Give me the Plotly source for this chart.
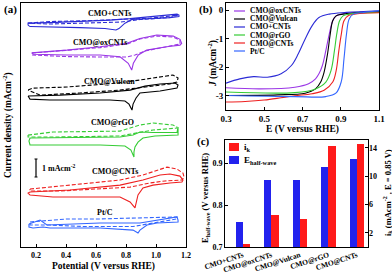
import plotly.graph_objects as go

SERIF = "Liberation Serif, Times New Roman, serif"
W, H = 392, 273

# ---------------- Panel (a): CV curves (V vs RHE, stacked current density mA cm^-2) ----------------
a_names = ["CMO+CNTs", "CMO@oxCNTs", "CMO@Vulcan", "CMO@rGO", "CMO@CNTs", "Pt/C"]
a_colors = ["#2b2bd6", "#9a36e6", "#000000", "#35cc35", "#ee2020", "#3366ff"]

cnt_plus_solid_V = [0.147, 0.147, 0.293, 0.493, 0.693, 0.827, 0.96, 1.06, 1.14, 1.153, 1.153, 1.093, 0.96, 0.84, 0.793, 0.753, 0.733, 0.66, 0.493, 0.293, 0.16, 0.147]
cnt_plus_solid_j = [12.33, 12.44, 12.47, 12.53, 12.61, 12.69, 12.78, 12.86, 12.94, 12.89, 12.81, 12.75, 12.69, 12.64, 12.44, 12.14, 12.06, 12.14, 12.19, 12.22, 12.25, 12.33]
cnt_plus_dash_V = [0.147, 0.293, 0.56, 0.793, 0.96, 1.093, 1.147, 1.093, 0.893, 0.76, 0.56, 0.293, 0.147]
cnt_plus_dash_j = [12.44, 12.53, 12.58, 12.64, 12.72, 12.83, 12.89, 12.75, 12.64, 12.5, 12.44, 12.39, 12.44]

ox_solid_V = [0.171, 0.405, 0.627, 0.805, 0.893, 1.005, 1.115, 1.16, 1.171, 1.16, 1.071, 0.938, 0.882, 0.849, 0.838, 0.815, 0.76, 0.627, 0.405, 0.182, 0.171]
ox_solid_j = [10.79, 10.94, 11.13, 11.32, 11.59, 11.78, 11.72, 11.54, 11.32, 11.22, 11.13, 10.94, 10.67, 10.21, 9.83, 10.21, 10.57, 10.67, 10.67, 10.71, 10.79]
ox_dash_V = [0.173, 0.407, 0.627, 0.807, 0.893, 1.007, 1.113, 1.16, 1.16, 1.027, 0.927, 0.86, 0.807, 0.627, 0.407, 0.173, 0.173]
ox_dash_j = [10.78, 10.92, 11.08, 11.28, 11.56, 11.72, 11.67, 11.5, 11.28, 11.06, 10.89, 10.67, 10.56, 10.56, 10.58, 10.67, 10.78]

vul_solid_V = [0.147, 0.36, 0.627, 0.827, 0.927, 1.027, 1.127, 1.147, 1.14, 1.027, 0.893, 0.867, 0.847, 0.84, 0.82, 0.793, 0.693, 0.493, 0.293, 0.16, 0.147]
vul_solid_j = [8.39, 8.44, 8.56, 8.72, 8.94, 9.06, 9.11, 9.0, 8.83, 8.67, 8.56, 8.28, 7.94, 7.61, 7.94, 8.11, 8.17, 8.17, 8.17, 8.22, 8.39]
vul_dash_V = [0.147, 0.18, 0.407, 0.74, 0.893, 1.027, 1.113, 1.147, 1.14, 1.093, 0.96, 0.76, 0.493, 0.227, 0.147]
vul_dash_j = [8.72, 8.83, 8.89, 9.11, 9.28, 9.44, 9.56, 9.39, 9.17, 9.06, 8.94, 8.72, 8.56, 8.44, 8.72]

rgo_solid_V = [0.16, 0.313, 0.76, 0.847, 0.893, 0.98, 1.14, 1.147, 1.147, 0.993, 0.913, 0.88, 0.86, 0.853, 0.853, 0.833, 0.793, 0.627, 0.36, 0.16, 0.153, 0.16]
rgo_solid_j = [6.06, 6.08, 6.11, 6.22, 6.39, 6.36, 6.36, 6.67, 6.22, 6.17, 6.06, 5.83, 5.56, 5.28, 5.0, 5.39, 5.61, 5.67, 5.67, 5.67, 5.89, 6.06]
rgo_dash_V = [0.147, 0.313, 0.76, 0.827, 0.893, 0.98, 1.113, 1.14, 1.14, 0.98, 0.873, 0.76, 0.313, 0.147, 0.147]
rgo_dash_j = [6.22, 6.39, 6.44, 6.61, 6.78, 6.89, 6.78, 6.67, 6.61, 6.5, 6.33, 6.17, 6.11, 6.11, 6.22]

cnt_solid_V = [0.16, 0.427, 0.76, 0.913, 1.027, 1.093, 1.16, 1.18, 1.173, 1.093, 0.98, 0.913, 0.88, 0.86, 0.827, 0.76, 0.313, 0.16, 0.147, 0.16]
cnt_solid_j = [3.06, 3.17, 3.44, 3.72, 4.0, 4.06, 3.94, 3.72, 3.61, 3.56, 3.44, 3.28, 2.89, 2.17, 2.5, 2.78, 2.78, 2.89, 3.0, 3.06]
cnt_dash_V = [0.16, 0.54, 0.76, 0.913, 1.027, 1.073, 1.14, 1.18, 1.187, 1.173, 1.06, 0.96, 0.827, 0.627, 0.36, 0.16, 0.16]
cnt_dash_j = [3.22, 3.56, 3.72, 4.0, 4.33, 4.44, 4.33, 4.11, 3.89, 3.72, 3.67, 3.56, 3.33, 3.22, 3.11, 3.11, 3.22]

pt_solid_V = [0.153, 0.227, 0.273, 0.627, 0.893, 1.007, 1.14, 1.147, 1.147, 1.007, 0.94, 0.893, 0.88, 0.847, 0.627, 0.293, 0.247, 0.18, 0.153, 0.153]
pt_solid_j = [1.28, 1.5, 1.22, 1.33, 1.33, 1.5, 1.67, 1.5, 1.39, 1.33, 1.22, 0.94, 0.78, 0.94, 1.06, 1.06, 1.11, 1.06, 1.11, 1.28]
pt_dash_V = [0.16, 0.407, 0.627, 0.847, 1.007, 1.14, 1.14, 1.027, 0.847, 0.513, 0.293, 0.16, 0.16]
pt_dash_j = [1.39, 1.56, 1.56, 1.61, 1.67, 1.67, 1.56, 1.39, 1.14, 1.14, 1.22, 1.22, 1.39]

a_solid = [(cnt_plus_solid_V, cnt_plus_solid_j), (ox_solid_V, ox_solid_j), (vul_solid_V, vul_solid_j),
           (rgo_solid_V, rgo_solid_j), (cnt_solid_V, cnt_solid_j), (pt_solid_V, pt_solid_j)]
a_dash = [(cnt_plus_dash_V, cnt_plus_dash_j), (ox_dash_V, ox_dash_j), (vul_dash_V, vul_dash_j),
          (rgo_dash_V, rgo_dash_j), (cnt_dash_V, cnt_dash_j), (pt_dash_V, pt_dash_j)]
a_label_V = [0.693, 0.627, 0.693, 0.713, 0.727, 0.66]
a_label_j = [13.0, 11.39, 9.22, 6.94, 4.17, 1.89]

# ---------------- Panel (b): LSV ----------------
b_names = ["CMO@oxCNTs", "CMO@Vulcan", "CMO+CNTs", "CMO@rGO", "CMO@CNTs", "Pt/C"]
b_colors = ["#9a36e6", "#000000", "#2b2bd6", "#35cc35", "#ee2020", "#3366ff"]
b_V = [
    [0.3, 0.48, 0.66, 0.732, 0.768, 0.786, 0.804, 0.822, 0.84, 0.858, 0.876, 0.93, 1.0, 1.1],
    [0.3, 0.57, 0.714, 0.768, 0.795, 0.813, 0.831, 0.845, 0.858, 0.876, 0.93, 1.0, 1.1],
    [0.3, 0.372, 0.444, 0.516, 0.588, 0.642, 0.678, 0.714, 0.75, 0.786, 0.84, 0.93, 1.1],
    [0.3, 0.66, 0.768, 0.822, 0.849, 0.867, 0.879, 0.894, 0.912, 0.966, 1.1],
    [0.3, 0.4, 0.5, 0.588, 0.66, 0.75, 0.813, 0.858, 0.876, 0.89, 0.903, 0.917, 0.939, 1.0, 1.1],
    [0.3, 0.66, 0.822, 0.876, 0.903, 0.917, 0.93, 0.944, 0.966, 1.02, 1.1],
]
b_J = [
    [-2.72, -2.76, -2.7, -2.58, -2.41, -2.23, -1.94, -1.42, -0.84, -0.37, -0.2, -0.12, -0.08, -0.06],
    [-2.99, -2.97, -2.91, -2.76, -2.52, -2.17, -1.53, -0.84, -0.37, -0.2, -0.12, -0.08, -0.06],
    [-2.56, -2.41, -2.33, -2.35, -2.23, -1.94, -1.53, -1.01, -0.55, -0.26, -0.14, -0.08, -0.02],
    [-2.87, -2.89, -2.76, -2.52, -2.12, -1.42, -0.84, -0.37, -0.2, -0.12, -0.08],
    [-3.22, -3.2, -3.15, -3.07, -3.0, -2.93, -2.81, -2.52, -2.12, -1.42, -0.84, -0.37, -0.2, -0.12, -0.09],
    [-2.99, -3.03, -3.03, -2.9, -2.5, -1.7, -0.84, -0.31, -0.14, -0.08, -0.02],
]

# ---------------- Panel (c): bars ----------------
c_cats = ["CMO+CNTs", "CMO@oxCNTs", "CMO@Vulcan", "CMO@rGO", "CMO@CNTs"]
c_ehalf = [0.76, 0.86, 0.86, 0.89, 0.91]
c_ik = [0.4, 4.5, 4.0, 14.2, 14.6]

fig = go.Figure()

for k in range(6):
    c = a_colors[k]
    fig.add_trace(go.Scatter(x=a_dash[k][0], y=a_dash[k][1], mode="lines", xaxis="x", yaxis="y",
                             line=dict(color=c, width=1.1, dash="4px,2px"), showlegend=False))
    fig.add_trace(go.Scatter(x=a_solid[k][0], y=a_solid[k][1], mode="lines", xaxis="x", yaxis="y",
                             line=dict(color=c, width=1.1), showlegend=False))

for k in range(6):
    fig.add_trace(go.Scatter(x=b_V[k], y=b_J[k], mode="lines", xaxis="x2", yaxis="y2",
                             line=dict(color=b_colors[k], width=1.1, shape="spline"), showlegend=False))

fig.add_trace(go.Bar(x=c_cats, y=c_ehalf, xaxis="x3", yaxis="y3", width=0.25, offset=-0.25,
                     marker=dict(color="#2222ee", line=dict(width=0)), showlegend=False))
fig.add_trace(go.Bar(x=c_cats, y=c_ik, xaxis="x3", yaxis="y4", width=0.25, offset=0,
                     marker=dict(color="#ff1a1a", line=dict(width=0)), showlegend=False))


def fx(p):
    return p / W


def fy(p):
    return 1 - p / H


tick8 = dict(family=SERIF, size=8, color="black", weight="bold")
tick75 = dict(family=SERIF, size=7.5, color="black", weight="bold")
tick9 = dict(family=SERIF, size=9, color="black", weight="bold")
ax_common = dict(showline=True, linecolor="black", linewidth=1, mirror=True, showgrid=False,
                 zeroline=False, ticks="inside", ticklen=3, tickcolor="black", automargin=False)

anns = []
for k in range(6):
    anns.append(dict(x=a_label_V[k], y=a_label_j[k], xref="x", yref="y", text=a_names[k], showarrow=False,
                     xanchor="center", yanchor="middle",
                     font=dict(family=SERIF, size=8, color="black", weight="bold")))
anns.append(dict(x=0.225, y=4.39, xref="x", yref="y", text="1 mAcm<sup>-2</sup>", showarrow=False,
                 xanchor="left", yanchor="middle", font=dict(family=SERIF, size=8, color="black", weight="bold")))


def title_ann(x, y, text, size, angle=0):
    return dict(x=fx(x), y=fy(y), xref="paper", yref="paper", text=text, showarrow=False, textangle=angle,
                xanchor="center", yanchor="middle",
                font=dict(family=SERIF, size=size, color="black", weight="bold"))


anns += [
    title_ann(10, 10, "(a)", 11),
    title_ann(206, 10, "(b)", 11),
    title_ann(203, 141, "(c)", 11),
    title_ann(103, 266, "Potential (V versus RHE)", 9.5),
    title_ann(8, 125, "Current density (mAcm<sup>-2</sup>)", 9.5, -90),
    title_ann(302, 129, "E (V versus RHE)", 9.5),
    title_ann(212, 64, "<i>J</i> (mAcm<sup>-2</sup>)", 9.5, -90),
    title_ann(205, 198, "E<sub>half-wave</sub> (V versus RHE)", 8.5, -90),
    title_ann(387, 193, "i<sub>k</sub> (mAcm<sup>-2</sup> , E = 0.85 V)", 8.5, -90),
]

shapes = []
# panel (b) legend
for k in range(6):
    yy = 11 + 8 * k
    shapes.append(dict(type="line", xref="paper", yref="paper", x0=fx(234), x1=fx(245), y0=fy(yy), y1=fy(yy),
                       line=dict(color=b_colors[k], width=1.2)))
    anns.append(dict(x=fx(248), y=fy(yy), xref="paper", yref="paper", text=b_names[k], showarrow=False,
                     xanchor="left", yanchor="middle",
                     font=dict(family=SERIF, size=7.5, color="black", weight="bold")))
# panel (c) legend
for (col, txt, yy) in [("#ff1a1a", "i<sub>k</sub>", 147), ("#2222ee", "E<sub>half-wave</sub>", 160)]:
    shapes.append(dict(type="rect", xref="paper", yref="paper", x0=fx(229), x1=fx(239), y0=fy(yy + 4), y1=fy(yy - 4),
                       fillcolor=col, line=dict(width=0)))
    anns.append(dict(x=fx(242), y=fy(yy), xref="paper", yref="paper", text=txt, showarrow=False,
                     xanchor="left", yanchor="middle",
                     font=dict(family=SERIF, size=9, color="black", weight="bold")))
# scale bar in panel (a)
shapes.append(dict(type="line", xref="x", yref="y", x0=0.2, x1=0.2, y0=3.89, y1=4.89, line=dict(color="black", width=1.2)))
shapes.append(dict(type="line", xref="x", yref="y", x0=0.19, x1=0.21, y0=3.89, y1=3.89, line=dict(color="black", width=1)))
shapes.append(dict(type="line", xref="x", yref="y", x0=0.19, x1=0.21, y0=4.89, y1=4.89, line=dict(color="black", width=1)))

fig.update_layout(
    template="none",
    width=W, height=H, margin=dict(l=0, r=0, t=0, b=0, pad=0, autoexpand=False),
    paper_bgcolor="white", plot_bgcolor="white",
    showlegend=False,
    bargap=0,
    xaxis=dict(domain=[fx(21), fx(186)], range=[0.1, 1.2], tickvals=[0.2, 0.4, 0.6, 0.8, 1.0, 1.2],
               ticktext=["0.2", "0.4", "0.6", "0.8", "1.0", "1.2"], tickfont=tick8, anchor="y", **ax_common),
    yaxis=dict(domain=[fy(247), fy(3)], range=[0, 13.56], showticklabels=False, anchor="x",
               **{**ax_common, "ticks": ""}),
    xaxis2=dict(domain=[fx(226), fx(379)], range=[0.3, 1.1], tickvals=[0.3, 0.5, 0.7, 0.9, 1.1],
                ticktext=["0.3", "0.5", "0.7", "0.9", "1.1"], tickfont=tick9, anchor="y2", **ax_common),
    yaxis2=dict(domain=[fy(110), fy(3)], range=[-3.5, 0.25], tickvals=[0, -1, -2, -3],
                ticktext=["0", "-1", "-2", "-3"], tickfont=tick9, anchor="x2", **ax_common),
    xaxis3=dict(domain=[fx(225), fx(368)], range=[-0.63, 4.39], type="category", tickangle=-18,
                tickfont=tick75, anchor="y3", **{**ax_common, "ticks": ""}),
    yaxis3=dict(domain=[fy(247), fy(140)], range=[0.7, 0.955], tickvals=[0.7, 0.8, 0.9],
                ticktext=["0.7", "0.8", "0.9"], tickfont=tick8, anchor="x3", **ax_common),
    yaxis4=dict(overlaying="y3", side="right", range=[0, 15.1], tickvals=[2, 6, 10, 14],
                tickfont=tick8, anchor="x3", showline=False, showgrid=False, zeroline=False,
                ticks="inside", ticklen=3, tickcolor="black", automargin=False),
    annotations=anns, shapes=shapes,
)

fig.write_html("out.html", config={"displayModeBar": False},
               post_script="document.body.style.margin='0';document.body.style.padding='0';")
